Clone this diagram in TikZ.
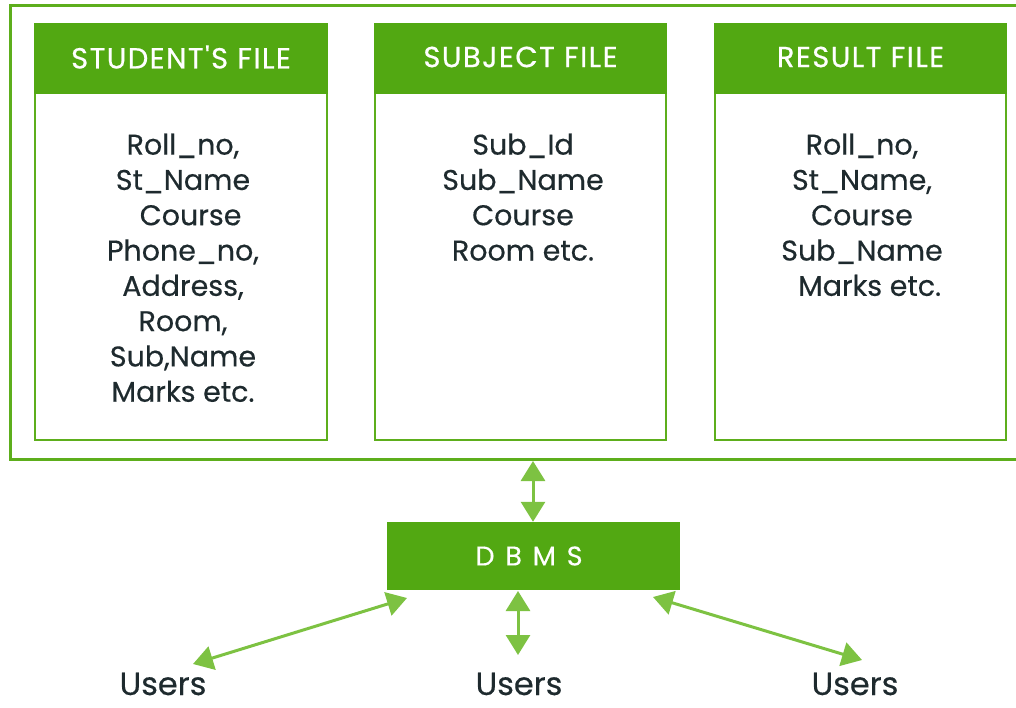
\documentclass[tikz,border=0pt]{standalone}
\usepackage{fontspec}
\setmainfont{Poppins}[FakeBold=0.4]
\newfontfamily\hdrfont{Poppins}[FakeBold=0.6,LetterSpace=5]
\newfontfamily\dbmsfont{Poppins}[FakeBold=0.3,LetterSpace=40]
\usetikzlibrary{arrows.meta}
\definecolor{hdrgreen}{HTML}{52A812}
\definecolor{framegreen}{HTML}{5DAE1C}
\definecolor{arrowgreen}{HTML}{7DC242}
\definecolor{inkdark}{HTML}{1E2A2E}
\begin{document}
\begin{tikzpicture}[x=1pt,y=-1pt,
  filebox/.style={draw=framegreen,line width=2.5pt,fill=white},
  header/.style={fill=hdrgreen,draw=hdrgreen,line width=2.5pt},
  hdrtext/.style={text=white,font=\hdrfont\fontsize{29}{32}\selectfont},
  fields/.style={text=inkdark,align=center,anchor=north,font=\fontsize{28.5}{35.3}\selectfont},
  link/.style={draw=arrowgreen,line width=3pt,{Triangle[width=24pt,length=20pt]}-{Triangle[width=24pt,length=20pt]}},
  usertext/.style={text=inkdark,anchor=base,inner sep=0pt,font=\fontsize{32}{35}\selectfont}]
\useasboundingbox (0,0) rectangle (1016,708);
\clip (0,0) rectangle (1016,708);
% outer frame holding the three files
\draw[draw=framegreen,line width=3pt] (10,6) rectangle (1040,459);
% file boxes
\foreach \name/\xa/\xb/\ttl in {stu/35/327/{STUDENT'S FILE},sub/375/666/{SUBJECT FILE},res/715/1006/{RESULT FILE}}{
  \draw[filebox] (\xa,24) rectangle (\xb,440);
  \fill[header] (\xa,24) rectangle (\xb,93);
  \node[hdrtext] (\name-hdr) at ({(\xa+\xb)/2},57) {\ttl};
}
\node[fields] (stu-f) at (183,130) {Roll\_no,\\St\_Name\\\ \ Course\\Phone\_no,\\Address,\\Room,\\Sub,Name\\Marks etc.};
\node[fields] (sub-f) at (523,130) {Sub\_Id\\Sub\_Name\\Course\\Room etc.};
\node[fields] (res-f) at (862,130) {Roll\_no,\\St\_Name,\\Course\\Sub\_Name\\\ \ Marks etc.};
% DBMS box
\node[fill=hdrgreen,minimum width=293pt,minimum height=68pt,inner sep=0pt,text=white] (dbms) at (533.5,556) {};
\node[text=white,font=\dbmsfont\fontsize{27}{30}\selectfont] (dbms-t) at (529,556) {DBMS};
\coordinate (frameb) at (533,461);
% users
\node[usertext] (u1) at (163,695) {Users};
\node[usertext] (u2) at (519,695) {Users};
\node[usertext] (u3) at (855,695) {Users};
\coordinate (u1t) at (193,664);
\coordinate (u2t) at (518,655);
\coordinate (u3t) at (862,660);
\coordinate (d1) at (407,598);
\coordinate (d2) at (518,591);
\coordinate (d3) at (653,597);
% connectors
\draw[link] (frameb) -- (dbms.north -| frameb);
\draw[link] (d1) -- (u1t);
\draw[link] (d2) -- (u2t);
\draw[link] (d3) -- (u3t);
\end{tikzpicture}
\end{document}
